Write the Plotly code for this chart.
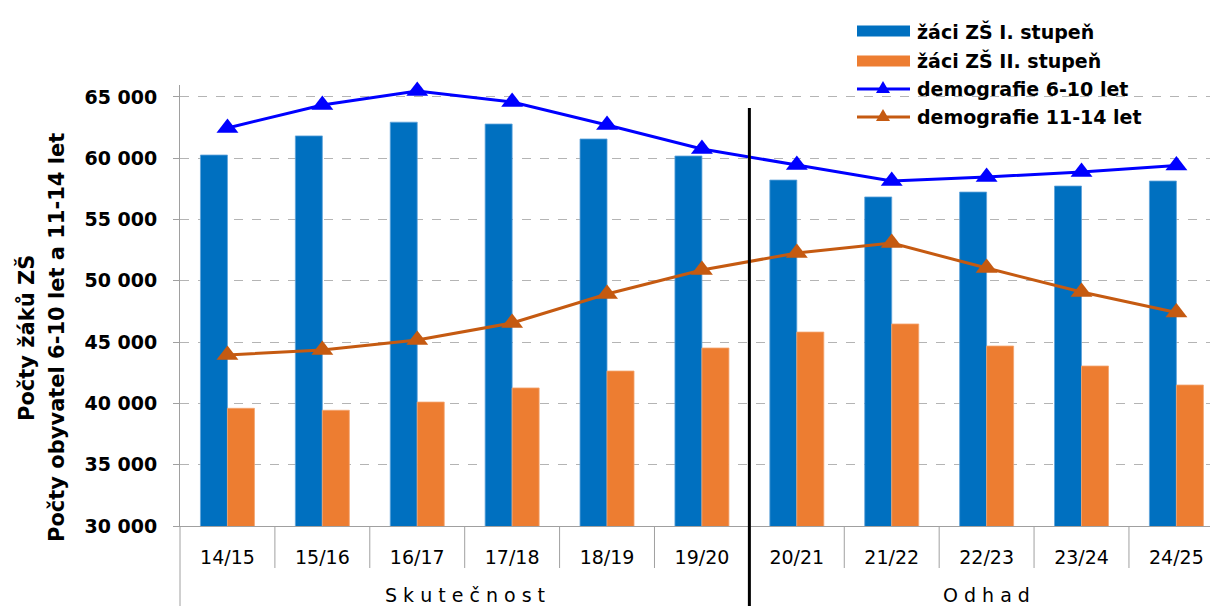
import plotly.graph_objects as go

# ---------------- data ----------------
categories = ["14/15", "15/16", "16/17", "17/18", "18/19", "19/20",
              "20/21", "21/22", "22/23", "23/24", "24/25"]
zaci_I = [60260, 61820, 62940, 62790, 61570, 60180, 58220, 56840, 57240, 57730, 58140]
zaci_II = [39600, 39440, 40110, 41260, 42640, 44520, 45820, 46480, 44680, 43050, 41500]
demo_6_10 = [62470, 64340, 65480, 64590, 62710, 60750, 59450, 58140, 58470, 58880, 59400]
demo_11_14 = [43950, 44360, 45170, 46560, 48920, 50880, 52270, 53080, 51040, 49090, 47420]
y_tickvals = [30000, 35000, 40000, 45000, 50000, 55000, 60000, 65000]
y_ticktext = ["30 000", "35 000", "40 000", "45 000", "50 000", "55 000", "60 000", "65 000"]
groups = ["S k u t e č n o s t", "O d h a d"]
group_spans = [(0, 5), (6, 10)]
legend_names = ["žáci ZŠ I. stupeň", "žáci ZŠ II. stupeň", "demografie 6-10 let", "demografie 11-14 let"]

# ---------------- style ----------------
C_BLUE_BAR = "#0070C0"
C_ORANGE_BAR = "#ED7D31"
C_BLUE_LINE = "#0000FF"
C_ORANGE_LINE = "#C55A11"
GRID = "#B4B4B4"
AXIS = "#A0A0A0"
FONT = "DejaVu Sans"

W, H = 1210, 606
L, R, T, B = 180, 1210, 85, 526


def px(x):
    return (x - L) / (R - L)


def py(y):
    return (B - y) / (B - T)


xs = list(range(len(categories)))

fig = go.Figure()
fig.add_trace(go.Bar(x=xs, y=zaci_I, name=legend_names[0], marker_color=C_BLUE_BAR,
                     marker_line=dict(color="#5FA3DB", width=0.8), showlegend=False))
fig.add_trace(go.Bar(x=xs, y=zaci_II, name=legend_names[1], marker_color=C_ORANGE_BAR,
                     marker_line=dict(color="#F4A470", width=0.8), showlegend=False))
fig.add_trace(go.Scatter(x=xs, y=demo_6_10, name=legend_names[2], mode="lines+markers",
                         line=dict(color=C_BLUE_LINE, width=3),
                         marker=dict(symbol="triangle-up", size=19, color=C_BLUE_LINE),
                         cliponaxis=False, showlegend=False))
fig.add_trace(go.Scatter(x=xs, y=demo_11_14, name=legend_names[3], mode="lines+markers",
                         line=dict(color=C_ORANGE_LINE, width=3),
                         marker=dict(symbol="triangle-up", size=19, color=C_ORANGE_LINE),
                         cliponaxis=False, showlegend=False))

shapes = []
# white box behind legend (hides top gridline)
shapes.append(dict(type="rect", xref="paper", yref="paper", x0=px(752), x1=1.0, y0=py(135), y1=1.0,
                   fillcolor="white", line=dict(width=0), layer="between"))
# category boundary ticks
for i in range(len(categories) - 1):
    shapes.append(dict(type="line", xref="x", yref="paper", x0=i + 0.5, x1=i + 0.5,
                       y0=0, y1=py(568), line=dict(color=AXIS, width=1)))
# left axis extension down
shapes.append(dict(type="line", xref="paper", yref="paper", x0=0, x1=0, y0=0, y1=py(606),
                   line=dict(color=AXIS, width=1)))
# group separator
shapes.append(dict(type="line", xref="x", yref="paper", x0=5.5, x1=5.5, y0=py(108), y1=py(606),
                   line=dict(color="black", width=3)))

annotations = []
# group labels
for g, (a, b) in zip(groups, group_spans):
    annotations.append(dict(x=(a + b) / 2, y=py(595), xref="x", yref="paper", text=g, showarrow=False,
                            font=dict(family=FONT, size=19, color="black"), xanchor="center", yanchor="middle"))
# y-axis title (two lines)
annotations.append(dict(x=px(26), y=py(338), xref="paper", yref="paper", text="<b>Počty žáků ZŠ</b>",
                        textangle=-90, showarrow=False, font=dict(family=FONT, size=21, color="black"),
                        xanchor="center", yanchor="middle"))
annotations.append(dict(x=px(57), y=py(338), xref="paper", yref="paper",
                        text="<b>Počty obyvatel 6-10 let a 11-14 let</b>",
                        textangle=-90, showarrow=False, font=dict(family=FONT, size=21, color="black"),
                        xanchor="center", yanchor="middle"))

# manual legend
leg_rows = [31, 61, 89, 117]
leg_x0, leg_x1, leg_tx = 857, 910, 915
shapes.append(dict(type="rect", xref="paper", yref="paper", x0=px(leg_x0), x1=px(leg_x1),
                   y0=py(leg_rows[0] + 5.5), y1=py(leg_rows[0] - 5.5), fillcolor=C_BLUE_BAR, line=dict(width=0)))
shapes.append(dict(type="rect", xref="paper", yref="paper", x0=px(leg_x0), x1=px(leg_x1),
                   y0=py(leg_rows[1] + 5.5), y1=py(leg_rows[1] - 5.5), fillcolor=C_ORANGE_BAR, line=dict(width=0)))
for row, col in [(leg_rows[2], C_BLUE_LINE), (leg_rows[3], C_ORANGE_LINE)]:
    shapes.append(dict(type="line", xref="paper", yref="paper", x0=px(leg_x0), x1=px(leg_x1),
                       y0=py(row), y1=py(row), line=dict(color=col, width=3)))
    shapes.append(dict(type="path", xref="paper", yref="paper", xsizemode="pixel", ysizemode="pixel",
                       xanchor=px(883), yanchor=py(row), path="M -7 -4 L 7 -4 L 0 8 Z",
                       fillcolor=col, line=dict(width=0)))
for name, row in zip(legend_names, leg_rows):
    annotations.append(dict(x=px(leg_tx), y=py(row), xref="paper", yref="paper", text="<b>" + name + "</b>",
                            showarrow=False, font=dict(family=FONT, size=19, color="black"),
                            xanchor="left", yanchor="middle"))

fig.update_layout(
    width=W, height=H,
    margin=dict(l=L, r=W - R, t=T, b=H - B, pad=0),
    paper_bgcolor="white", plot_bgcolor="white",
    barmode="group", bargap=0.431, bargroupgap=0,
    font=dict(family=FONT, color="black"),
    shapes=shapes, annotations=annotations,
    xaxis=dict(range=[-0.5, 10.354], tickvals=xs, ticktext=categories, ticks="",
               showline=True, linecolor=AXIS, linewidth=1, showgrid=False, zeroline=False,
               tickfont=dict(family=FONT, size=19, color="black"), ticklabelstandoff=14),
    yaxis=dict(range=[30000, 65973], tickvals=y_tickvals, ticktext=y_ticktext,
               ticks="outside", ticklen=6, tickcolor=AXIS,
               showline=True, linecolor=AXIS, linewidth=1,
               showgrid=True, gridcolor=GRID, griddash="dash", gridwidth=1, zeroline=False,
               tickfont=dict(family=FONT, size=19, color="black", weight="bold"), ticklabelstandoff=12),
)

fig.write_html("out.html", config={"displayModeBar": False},
               post_script="document.body.style.margin='0';document.body.style.overflow='hidden';")
